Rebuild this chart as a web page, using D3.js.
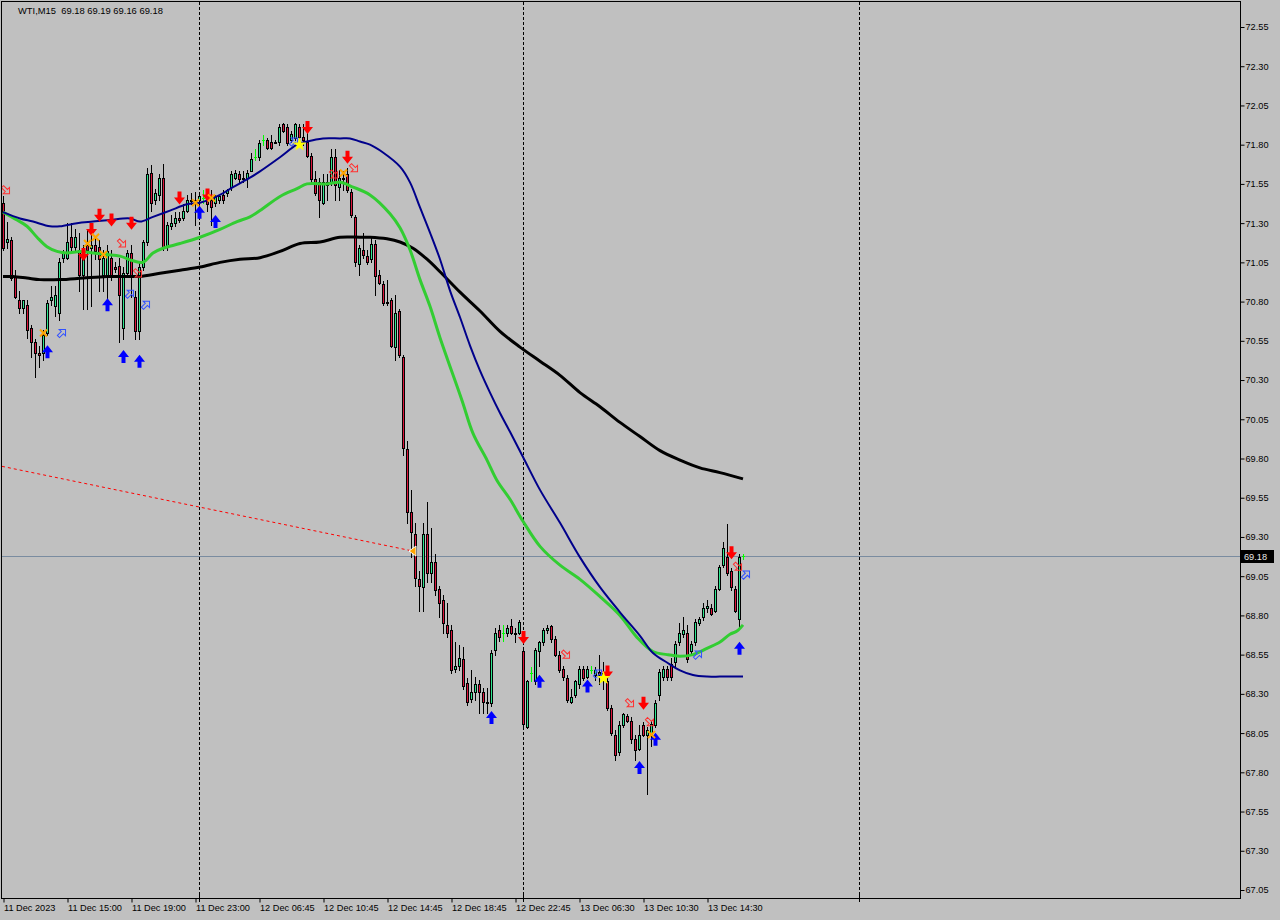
<!DOCTYPE html>
<html><head><meta charset="utf-8">
<script src="https://cdn.jsdelivr.net/npm/d3@7"></script>
<style>body{margin:0;background:#c0c0c0;}svg{display:block;font-family:"Liberation Sans",Arial,sans-serif;}text{white-space:pre;}</style>
</head><body><svg id="c" width="1280" height="920"></svg>
<script>
// ---- data ----
const symbolTitle = "WTI,M15  69.18 69.19 69.16 69.18";
const lastPrice = 69.18;
const priceTicks = [72.55,72.30,72.05,71.80,71.55,71.30,71.05,70.80,70.55,70.30,70.05,69.80,69.55,69.30,69.05,68.80,68.55,68.30,68.05,67.80,67.55,67.30,67.05];
const timeTickIdx = [0,16,32,48,64,80,96,112,128,144,160,176];
const timeLabels = ["11 Dec 2023","11 Dec 15:00","11 Dec 19:00","11 Dec 23:00","12 Dec 06:45","12 Dec 10:45","12 Dec 14:45","12 Dec 18:45","12 Dec 22:45","13 Dec 06:30","13 Dec 10:30","13 Dec 14:30"];
const daySeparators = [49,130,214];

const opens = [71.43,71.18,71.19,70.96,70.81,70.76,70.78,70.63,70.54,70.47,
70.47,70.60,70.81,70.77,70.73,71.08,71.08,71.21,71.15,71.13,
70.97,71.16,71.14,71.16,71.15,70.97,70.97,71.08,71.02,71.03,
70.63,70.98,71.11,70.83,70.61,71.02,71.18,71.62,71.45,71.48,
71.59,71.15,71.28,71.30,71.33,71.33,71.38,71.45,71.43,71.45,
71.46,71.47,71.45,71.43,71.45,71.48,71.49,71.53,71.59,71.61,
71.58,71.59,71.63,71.72,71.72,71.83,71.83,71.82,71.82,71.82,
71.93,71.91,71.83,71.84,71.91,71.85,71.82,71.73,71.58,71.56,
71.43,71.56,71.56,71.72,71.53,71.59,71.61,71.50,71.34,71.04,
71.13,71.09,71.07,71.17,70.97,70.91,70.80,70.81,70.51,70.74,
70.45,69.86,69.46,69.32,69.03,68.98,69.32,69.07,69.14,68.97,
68.90,68.74,68.71,68.46,68.48,68.52,68.37,68.27,68.31,68.36,
68.31,68.25,68.24,68.58,68.71,68.69,68.69,68.73,68.69,68.69,
68.57,68.09,68.43,68.38,68.57,68.63,68.71,68.73,68.65,68.55,
68.46,68.40,68.25,68.29,68.36,68.46,68.41,68.45,68.42,68.44,
68.43,68.38,68.21,68.04,67.93,68.10,68.16,68.13,68.01,67.95,
68.10,68.04,68.04,68.10,68.29,68.41,68.46,68.49,68.50,68.63,
68.68,68.69,68.57,68.63,68.75,68.79,68.85,68.85,68.83,68.97,
69.12,69.17,69.08,68.97,68.78,69.18];
const highs = [71.47,71.31,71.21,71.00,70.87,70.81,70.81,70.65,70.56,70.52,
70.62,70.81,70.90,70.90,71.08,71.13,71.30,71.30,71.26,71.24,
71.16,71.26,71.27,71.22,71.19,71.13,71.16,71.13,71.05,71.08,
71.02,71.13,71.16,70.87,71.05,71.19,71.65,71.67,71.52,71.61,
71.68,71.31,71.35,71.37,71.37,71.42,71.48,71.49,71.50,71.48,
71.51,71.49,71.51,71.48,71.48,71.51,71.52,71.63,71.64,71.63,
71.63,71.64,71.75,71.77,71.83,71.86,71.84,71.86,71.83,71.93,
71.94,71.93,71.89,71.94,71.93,71.93,71.88,71.75,71.63,71.59,
71.61,71.61,71.77,71.77,71.64,71.63,71.65,71.52,71.35,71.16,
71.24,71.13,71.21,71.19,71.00,70.93,70.94,70.82,70.84,70.75,
70.46,69.91,69.60,69.39,69.08,69.39,69.52,69.36,69.19,68.99,
68.93,68.88,68.74,68.63,68.61,68.60,68.40,68.45,68.41,68.39,
68.34,68.34,68.58,68.72,68.74,68.74,68.74,68.78,68.72,68.77,
68.58,68.39,68.47,68.59,68.64,68.72,68.74,68.74,68.67,68.57,
68.48,68.42,68.33,68.39,68.48,68.48,68.48,68.48,68.47,68.55,
68.50,68.40,68.23,68.07,68.13,68.18,68.17,68.15,68.04,68.10,
68.12,68.09,68.13,68.26,68.46,68.48,68.48,68.53,68.64,68.75,
68.79,68.74,68.64,68.78,68.79,68.88,68.90,68.87,68.99,69.12,
69.27,69.38,69.10,68.99,69.19,69.19];
const lows = [71.13,71.14,70.94,70.82,70.73,70.73,70.57,70.45,70.32,70.38,
70.43,70.59,70.78,70.71,70.68,71.05,71.07,71.13,71.13,70.87,
70.75,70.75,70.77,71.07,70.87,70.87,70.75,70.94,70.99,70.54,
70.56,70.97,70.83,70.56,70.56,71.00,71.16,71.38,71.42,71.45,
71.13,71.13,71.26,71.28,71.31,71.32,71.37,71.42,71.29,71.35,
71.43,71.38,71.29,71.41,71.43,71.43,71.47,71.51,71.58,71.56,
71.56,71.53,71.63,71.70,71.70,71.80,71.77,71.77,71.81,71.80,
71.88,71.80,71.82,71.83,71.83,71.80,71.72,71.56,71.48,71.34,
71.42,71.45,71.54,71.45,71.45,71.51,71.50,71.34,71.03,70.97,
71.08,71.04,71.05,70.84,70.91,70.78,70.78,70.51,70.43,70.45,
69.82,69.39,69.17,68.99,68.83,68.83,69.01,69.01,68.93,68.79,
68.69,68.66,68.43,68.44,68.45,68.33,68.23,68.25,68.26,68.18,
68.18,68.18,68.22,68.55,68.64,68.64,68.67,68.68,68.63,68.68,
68.08,68.08,68.38,68.36,68.48,68.61,68.69,68.63,68.54,68.44,
68.39,68.25,68.24,68.28,68.34,68.39,68.40,68.43,68.39,68.36,
68.33,68.20,68.04,67.88,67.91,68.09,68.12,67.99,67.88,67.94,
68.03,67.66,67.97,68.09,68.26,68.39,68.39,68.39,68.48,68.61,
68.66,68.50,68.55,68.61,68.74,68.77,68.82,68.80,68.82,68.96,
69.11,69.06,68.96,68.82,68.72,69.16];
const closes = [71.14,71.20,70.95,70.83,70.76,70.81,70.62,70.54,70.47,70.46,
70.59,70.79,70.83,70.84,71.05,71.11,71.18,71.15,71.21,70.97,
71.13,71.13,71.16,71.12,71.07,71.08,71.12,70.97,71.01,70.84,
70.98,71.11,70.96,70.61,71.02,71.18,71.61,71.43,71.49,71.59,
71.15,71.29,71.30,71.33,71.32,71.38,71.45,71.44,71.45,71.47,
71.46,71.42,71.40,71.47,71.47,71.45,71.51,71.61,71.62,71.58,
71.59,71.62,71.71,71.72,71.81,71.83,71.78,71.78,71.81,71.91,
71.89,71.81,71.87,71.93,71.85,71.83,71.73,71.58,71.49,71.45,
71.56,71.54,71.72,71.54,71.59,71.58,71.51,71.35,71.05,71.14,
71.10,71.05,71.17,70.96,70.92,70.79,70.79,70.52,70.73,70.46,
69.87,69.46,69.33,69.04,68.99,69.32,69.07,69.14,68.96,68.88,
68.75,68.69,68.45,68.48,68.53,68.35,68.25,68.31,68.36,68.31,
68.25,68.24,68.56,68.69,68.66,68.69,68.72,68.69,68.68,68.76,
68.11,68.38,68.43,68.58,68.63,68.71,68.72,68.65,68.55,68.45,
68.41,68.26,68.28,68.38,68.46,68.40,68.46,68.45,68.45,68.42,
68.39,68.21,68.05,67.91,68.10,68.17,68.13,68.01,67.94,68.04,
68.04,68.07,68.11,68.24,68.44,68.46,68.41,68.41,68.62,68.69,
68.71,68.52,68.62,68.76,68.78,68.85,68.86,68.81,68.97,69.11,
69.23,69.07,68.98,68.83,69.17,69.18];

// moving averages read at (fractional) bar index -> price
const maBlue = [[0,71.37],[4.25,71.33],[7.5,71.31],[11.75,71.28],[14.25,71.28],[18.5,71.30],[22.5,71.31],[26.75,71.32],[31.75,71.33],[34.25,71.31],[37.5,71.34],[41.75,71.38],[46,71.42],[49.25,71.43],[54.25,71.48],[57.5,71.53],[61.75,71.59],[64.25,71.63],[69.25,71.72],[73.5,71.80],[76,71.82],[80,71.84],[84.25,71.84],[86.75,71.84],[89.25,71.82],[91.75,71.80],[95,71.75],[99.25,71.66],[101.75,71.56],[104.25,71.40],[106.75,71.24],[109.25,71.07],[111.75,70.87],[114.25,70.70],[116.75,70.52],[119.25,70.36],[121.75,70.22],[124.25,70.09],[126.75,69.97],[130,69.81],[134.25,69.60],[139.25,69.39],[144.25,69.17],[149.25,68.98],[154.25,68.82],[159.25,68.67],[162.5,68.56],[166,68.50],[169.25,68.45],[172.5,68.42],[176,68.41],[179.25,68.41],[181.75,68.41],[185,68.41]];
const maGreen = [[0,71.37],[3.5,71.32],[6,71.28],[8.5,71.21],[11,71.15],[13.5,71.12],[16,71.11],[19.25,71.12],[22.5,71.11],[26,71.10],[29.25,71.09],[32.5,71.06],[35,71.05],[37.5,71.11],[40,71.14],[44.25,71.17],[49.25,71.21],[54.25,71.26],[58.5,71.31],[61.75,71.34],[64.25,71.38],[69.25,71.47],[73.5,71.52],[76,71.55],[81,71.55],[84.25,71.56],[87.5,71.53],[91.75,71.48],[96.75,71.36],[99.25,71.27],[101.75,71.13],[104.25,70.94],[106.75,70.77],[109.25,70.57],[114.75,70.17],[117.5,69.96],[121,69.79],[123.5,69.66],[126.75,69.54],[130,69.40],[134.25,69.24],[139.25,69.12],[144.25,69.03],[149.25,68.92],[154.25,68.80],[158.5,68.66],[162.5,68.57],[166,68.55],[169.25,68.54],[172.5,68.55],[176,68.59],[179.25,68.63],[181.75,68.68],[183.5,68.70],[185,68.74]];
const maBlack = [[0,70.96],[2.5,70.96],[6,70.95],[9.25,70.94],[14.25,70.94],[20,70.95],[26,70.96],[31.75,70.96],[34.25,70.96],[39.25,70.98],[44.25,71.00],[49.25,71.02],[54.25,71.05],[59.25,71.07],[64.25,71.08],[69.25,71.12],[74.25,71.17],[79.25,71.18],[84.25,71.21],[89.25,71.21],[91.75,71.21],[96,71.20],[99.25,71.18],[102.5,71.14],[106,71.07],[109.25,70.99],[114.25,70.86],[119.25,70.74],[124.25,70.61],[129.25,70.51],[134.25,70.42],[139.25,70.33],[144.25,70.22],[149.25,70.13],[154.25,70.03],[159.25,69.94],[164.25,69.85],[169.25,69.79],[174.25,69.74],[179.25,69.71],[185,69.67]];
const trendLine = [[-0.25,69.75],[102.5,69.21]];

// signal markers: [bar index, price]
const redDownArrows = [[20,71.10],[22,71.26],[24,71.35],[27,71.32],[32,71.30],[44,71.46],[51,71.48],[76,71.91],[86,71.72],[130,68.66],[151,68.44],[160,68.24],[182,69.20]];
const blueUpArrows = [[11,70.48],[26,70.78],[30,70.45],[34,70.42],[49,71.37],[53,71.31],[122,68.15],[134,68.38],[146,68.35],[159,67.83],[163,68.01],[184,68.59]];
const redHollow = [[0,71.51],[29,71.17],[33,70.98],[82,71.61],[87,71.65],[140,68.55],[156,68.24],[161,68.12],[183,69.11]];
const blueHollow = [[14,70.60],[31,70.85],[35,70.78],[72,71.82],[148,68.43],[173,68.55],[185,69.06]];
const orangeCross = [[10,70.60],[21,71.17],[23,71.21],[25,71.10],[48,71.43],[52,71.46],[85,71.62],[162,68.04]];
const yellowStars = [[74,71.80],[150,68.40]];
const orangeTriangle = [[102.5,69.21]];

// ---- drawing ----
const W=1280,H=920, L=2, T=2, R=1240, B=898;
const svg=d3.select("#c");
const x=d3.scaleLinear().domain([0,185]).range([3,743]);
const y=d3.scaleLinear().domain([67.05,72.55]).range([890,27]);
const py=v=>Math.round(y(v));

svg.append("rect").attr("width",W).attr("height",H).attr("fill","#c0c0c0");
svg.append("defs").append("clipPath").attr("id","clip").append("rect").attr("x",L).attr("y",T).attr("width",R-L).attr("height",B-T);
const plot=svg.append("g").attr("clip-path","url(#clip)");

// separators
plot.selectAll("line.sep").data(daySeparators).join("line").attr("class","sep")
 .attr("x1",d=>x(d)+0.5).attr("x2",d=>x(d)+0.5).attr("y1",T).attr("y2",B)
 .attr("stroke","#000").attr("stroke-width",1).attr("stroke-dasharray","3,2");

// current price line
plot.append("line").attr("x1",L).attr("x2",R).attr("y1",py(lastPrice)+0.5).attr("y2",py(lastPrice)+0.5).attr("stroke","#7a8ca0").attr("stroke-width",1);

// trend line
plot.append("line").attr("x1",x(trendLine[0][0])).attr("y1",y(trendLine[0][1])).attr("x2",x(trendLine[1][0])).attr("y2",y(trendLine[1][1]))
 .attr("stroke","#ff0000").attr("stroke-width",1).attr("stroke-dasharray","3,3");

// candles
const bars=d3.range(opens.length).map(i=>({i,o:opens[i],h:highs[i],l:lows[i],c:closes[i]}));
const bullFill="#2ee68f", bearFill="#dc143c", doji="#00ff00";
const cg=plot.append("g");
cg.selectAll("line.w").data(bars).join("line").attr("class","w")
 .attr("x1",d=>x(d.i)+0.5).attr("x2",d=>x(d.i)+0.5)
 .attr("y1",d=>py(d.h)).attr("y2",d=>py(d.l)+1)
 .attr("stroke",d=>d.o===d.c?doji:"#000").attr("stroke-width",1);
cg.selectAll("rect.b").data(bars.filter(d=>d.o!==d.c)).join("rect").attr("class","b")
 .attr("x",d=>x(d.i)-0.5).attr("width",2)
 .attr("y",d=>py(Math.max(d.o,d.c))+0.5).attr("height",d=>Math.max(1,py(Math.min(d.o,d.c))-py(Math.max(d.o,d.c))))
 .attr("fill",d=>d.c>d.o?bullFill:bearFill).attr("stroke","#000").attr("stroke-width",1);
cg.selectAll("line.d").data(bars.filter(d=>d.o===d.c)).join("line").attr("class","d")
 .attr("x1",d=>x(d.i)-1).attr("x2",d=>x(d.i)+2).attr("y1",d=>py(d.o)+0.5).attr("y2",d=>py(d.o)+0.5)
 .attr("stroke",doji).attr("stroke-width",1);

// moving averages
const line=d3.line().x(d=>x(d[0])).y(d=>y(d[1])).curve(d3.curveCatmullRom.alpha(0.5));
plot.append("path").attr("d",line(maBlack)).attr("fill","none").attr("stroke","#000").attr("stroke-width",3);
plot.append("path").attr("d",line(maGreen)).attr("fill","none").attr("stroke","#32cd32").attr("stroke-width",3);
plot.append("path").attr("d",line(maBlue)).attr("fill","none").attr("stroke","#00008b").attr("stroke-width",2);

// markers
const mg=plot.append("g");
const downArrow="M-2,-6.5H2V-0.5H5.5L0,6.5L-5.5,-0.5H-2Z";
const upArrow="M-2,6.5H2V0.5H5.5L0,-6.5L-5.5,0.5H-2Z";
const hollowArrow="M-5,-1.5H0.5V-4.5L5,0L0.5,4.5V1.5H-5Z";
mg.selectAll("path.rd").data(redDownArrows).join("path").attr("d",downArrow)
 .attr("transform",d=>`translate(${x(d[0])+0.5},${y(d[1])})`).attr("fill","#ff0000");
mg.selectAll("path.bu").data(blueUpArrows).join("path").attr("d",upArrow)
 .attr("transform",d=>`translate(${x(d[0])+0.5},${y(d[1])})`).attr("fill","#0000ff");
mg.selectAll("path.rh").data(redHollow).join("path").attr("d",hollowArrow)
 .attr("transform",d=>`translate(${x(d[0])+3},${y(d[1])}) rotate(45)`).attr("fill","none").attr("stroke","#ff3030").attr("stroke-width",1);
mg.selectAll("path.bh").data(blueHollow).join("path").attr("d",hollowArrow)
 .attr("transform",d=>`translate(${x(d[0])+3},${y(d[1])}) rotate(-45)`).attr("fill","none").attr("stroke","#3050ff").attr("stroke-width",1);
mg.selectAll("path.ox").data(orangeCross).join("path").attr("d","M-3.5,-3.5L3.5,3.5M-3.5,3.5L3.5,-3.5")
 .attr("transform",d=>`translate(${x(d[0])+0.5},${y(d[1])})`).attr("stroke","#ffa500").attr("stroke-width",2);
mg.selectAll("path.ys").data(yellowStars).join("path").attr("d",d3.symbol(d3.symbolStar,60)())
 .attr("transform",d=>`translate(${x(d[0])+0.5},${y(d[1])})`).attr("fill","#ffff00");
mg.selectAll("path.ot").data(orangeTriangle).join("path").attr("d","M-4,0L3,-5V5Z")
 .attr("transform",d=>`translate(${x(d[0])},${y(d[1])})`).attr("fill","#ffa500").attr("stroke","#fff").attr("stroke-width",1);

// frame
svg.append("rect").attr("x",L-0.5).attr("y",T-0.5).attr("width",R-L+1).attr("height",B-T+1).attr("fill","none").attr("stroke","#000");

// title
svg.append("text").attr("x",18).attr("y",14).attr("font-size",9.4).attr("fill","#000").text(symbolTitle);

// price axis
const ya=d3.axisRight(y).tickValues(priceTicks).tickSize(4).tickFormat(d3.format(".2f"));
const yg=svg.append("g").attr("transform",`translate(${R+0.5},0)`).call(ya);
yg.select(".domain").remove();
yg.selectAll("line").attr("stroke","#000");
yg.selectAll("text").attr("font-size",9.2).attr("font-family","Liberation Sans, Arial, sans-serif").attr("fill","#000").attr("x",5);

// time axis
const xa=d3.axisBottom(x).tickValues(timeTickIdx).tickSize(4).tickFormat((d,k)=>timeLabels[k]);
const xg=svg.append("g").attr("transform",`translate(0.5,${B+0.5})`).call(xa);
xg.select(".domain").remove();
xg.selectAll("line").attr("stroke","#000");
xg.selectAll("text").attr("font-size",9.2).attr("font-family","Liberation Sans, Arial, sans-serif").attr("fill","#000").attr("text-anchor","start").attr("x",0).attr("dy","0.55em").attr("y",7);
svg.selectAll("line.st").data(daySeparators).join("line").attr("class","st")
 .attr("x1",d=>x(d)+0.5).attr("x2",d=>x(d)+0.5).attr("y1",B-4).attr("y2",B+4).attr("stroke","#000");

// last price label
const lp=svg.append("g").attr("transform",`translate(${R+1},${py(lastPrice)-6})`);
lp.append("rect").attr("width",33).attr("height",13).attr("fill","#000");
lp.append("text").attr("x",3).attr("y",10).attr("font-size",9.2).attr("fill","#e8e8e8").text(d3.format(".2f")(lastPrice));
</script></body></html>
